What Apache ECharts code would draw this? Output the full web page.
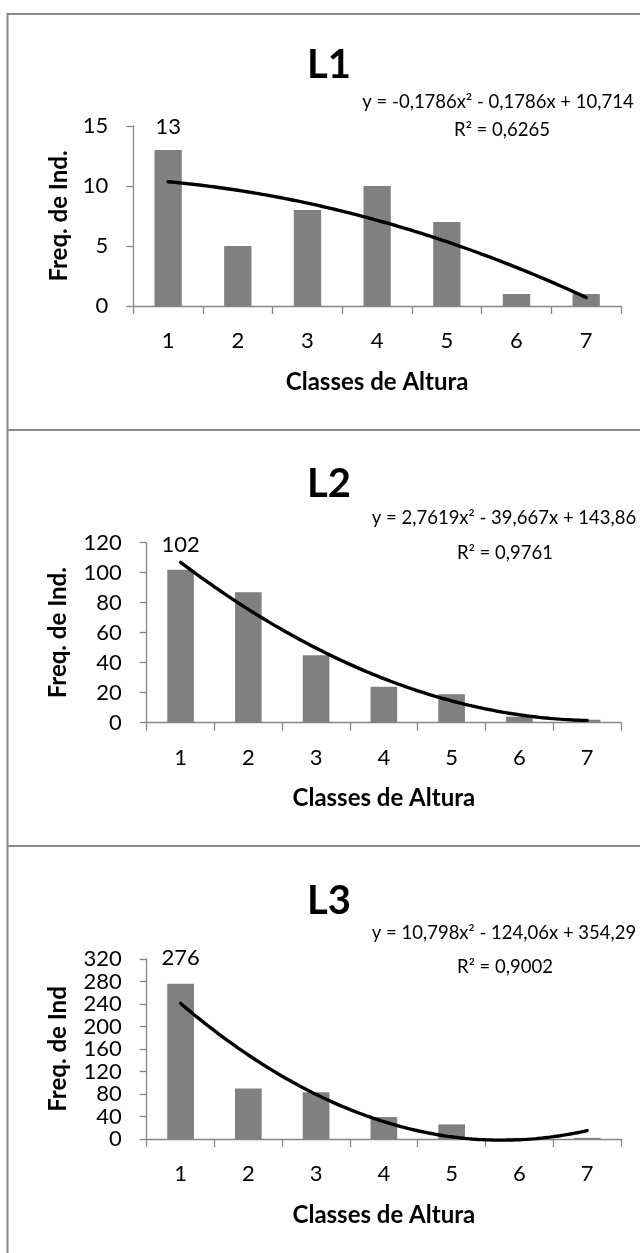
<!DOCTYPE html>
<html>
<head>
<meta charset="utf-8">
<script src="https://cdn.jsdelivr.net/npm/echarts@6/dist/echarts.min.js"></script>
<style>
  html, body { margin: 0; padding: 0; background: #fff; }
  #chart { width: 640px; height: 1253px; }
</style>
</head>
<body>
<div id="chart"></div>
<script>
// Height classes and individual counts per plot
const classes = ['1', '2', '3', '4', '5', '6', '7'];
const freqL1 = [13, 5, 8, 10, 7, 1, 1];
const freqL2 = [102, 87, 45, 24, 19, 4, 2];
const freqL3 = [276, 90, 83, 39, 26, 2, 2];

// Polynomial (order 2) trendline coefficients: [x², x, constant]
const trendL1 = [-0.1786, -0.1786, 10.714];
const trendL2 = [2.7619, -39.667, 143.86];
const trendL3 = [10.798, -124.06, 354.29];
const r2Values = [0.6265, 0.9761, 0.9002];

const panelTitles = ['L1', 'L2', 'L3'];
const yAxisNames = ['Freq. de Ind.', 'Freq. de Ind.', 'Freq. de Ind'];
const yMax = [15, 120, 320];
const yStep = [5, 20, 40];
const xAxisName = 'Classes de Altura';

const FONT = 'Lato, "Open Sans", sans-serif';
const AXIS_GREY = '#868686';
const BAR_GREY = '#808080';

const panels = [
  { freq: freqL1, trend: trendL1 },
  { freq: freqL2, trend: trendL2 },
  { freq: freqL3, trend: trendL3 }
];

// Placement of each panel on the page
const layout = [
  { grid: { left: 133.3, top: 126, width: 487.7, height: 180 }, barWidth: 27.3, labelDist: 12, yNameGap: 62,
    titleY: 65, eqX: 498, eqY: 102, r2X: 502, r2Y: 130 },
  { grid: { left: 146.7, top: 542.7, width: 474.3, height: 180 }, barWidth: 26.6, labelDist: 14, yNameGap: 76,
    titleY: 484, eqX: 504, eqY: 518, r2X: 505, r2Y: 553 },
  { grid: { left: 146.7, top: 959, width: 474.3, height: 180 }, barWidth: 26.7, labelDist: 15, yNameGap: 76,
    titleY: 901, eqX: 504, eqY: 933, r2X: 505, r2Y: 967 }
];

function fmt(v) { return String(Math.abs(v)).replace('.', ','); }
function equationText(c) {
  return 'y = ' + (c[0] < 0 ? '-' : '') + fmt(c[0]) + 'x² ' +
    (c[1] < 0 ? '- ' : '+ ') + fmt(c[1]) + 'x ' +
    (c[2] < 0 ? '- ' : '+ ') + fmt(c[2]);
}
function trendPoints(c) {
  const pts = [];
  for (let k = 0; k <= 120; k++) {
    const x = 1 + k * 0.05;
    pts.push([x, c[0] * x * x + c[1] * x + c[2]]);
  }
  return pts;
}

const grids = [], xAxes = [], yAxes = [], series = [], graphics = [];

panels.forEach((p, i) => {
  const L = layout[i];
  grids.push(Object.assign({ containLabel: false }, L.grid));

  xAxes.push({
    type: 'category', gridIndex: i, data: classes, boundaryGap: true,
    axisLine: { show: true, lineStyle: { color: AXIS_GREY, width: 1.3 } },
    axisTick: { show: true, length: 8, alignWithLabel: false, interval: 0, lineStyle: { color: AXIS_GREY, width: 1.3 } },
    axisLabel: { color: '#000', fontFamily: FONT, fontSize: 22, margin: 24, interval: 0 },
    splitLine: { show: false },
    name: xAxisName, nameLocation: 'middle', nameGap: 64,
    nameTextStyle: { color: '#000', fontFamily: FONT, fontSize: 24, fontWeight: 'bold' }
  });
  xAxes.push({ type: 'value', gridIndex: i, min: 0.5, max: 7.5, show: false });

  yAxes.push({
    type: 'value', gridIndex: i, min: 0, max: yMax[i], interval: yStep[i],
    axisLine: { show: true, lineStyle: { color: AXIS_GREY, width: 1.3 } },
    axisTick: { show: true, length: 7, lineStyle: { color: AXIS_GREY, width: 1.3 } },
    axisLabel: { color: '#000', fontFamily: FONT, fontSize: 22, margin: 25 },
    splitLine: { show: false },
    name: yAxisNames[i], nameLocation: 'middle', nameGap: L.yNameGap, nameRotate: 90,
    nameTextStyle: { color: '#000', fontFamily: FONT, fontSize: 24, fontWeight: 'bold' }
  });

  series.push({
    type: 'bar', xAxisIndex: 2 * i, yAxisIndex: i, data: p.freq,
    barWidth: L.barWidth, itemStyle: { color: BAR_GREY },
    label: {
      show: true, position: 'top', distance: L.labelDist, color: '#000',
      fontFamily: FONT, fontSize: 22,
      formatter: d => (d.dataIndex === 0 ? String(d.value) : '')
    }
  });
  series.push({
    type: 'line', xAxisIndex: 2 * i + 1, yAxisIndex: i, data: trendPoints(p.trend),
    showSymbol: false, symbol: 'none', clip: false, z: 5, silent: true,
    lineStyle: { color: '#000', width: 3.4, cap: 'round' }
  });

  graphics.push({
    type: 'text', x: 329, y: L.titleY,
    style: { text: panelTitles[i], font: 'bold 40px ' + FONT, fill: '#000',
      align: 'center', verticalAlign: 'middle', textAlign: 'center', textVerticalAlign: 'middle' }
  });
  graphics.push({
    type: 'text', x: L.eqX, y: L.eqY,
    style: { text: equationText(p.trend), font: '18.5px ' + FONT, fill: '#000',
      align: 'center', verticalAlign: 'middle', textAlign: 'center', textVerticalAlign: 'middle' }
  });
  graphics.push({
    type: 'text', x: L.r2X, y: L.r2Y,
    style: { text: 'R² = ' + fmt(r2Values[i]), font: '18.5px ' + FONT, fill: '#000',
      align: 'center', verticalAlign: 'middle', textAlign: 'center', textVerticalAlign: 'middle' }
  });
});

// Frame lines around the three panels
const frameColor = '#8a8a8a';
[14, 430, 846].forEach(y => {
  graphics.push({ type: 'line', shape: { x1: 7, y1: y, x2: 640, y2: y }, style: { stroke: frameColor, lineWidth: 2 } });
});
graphics.push({ type: 'line', shape: { x1: 7.5, y1: 13, x2: 7.5, y2: 1253 }, style: { stroke: frameColor, lineWidth: 2 } });

const chart = echarts.init(document.getElementById('chart'), null, { renderer: 'canvas' });
chart.setOption({
  animation: false,
  backgroundColor: '#fff',
  grid: grids,
  xAxis: xAxes,
  yAxis: yAxes,
  series: series,
  graphic: graphics
});
</script>
</body>
</html>
